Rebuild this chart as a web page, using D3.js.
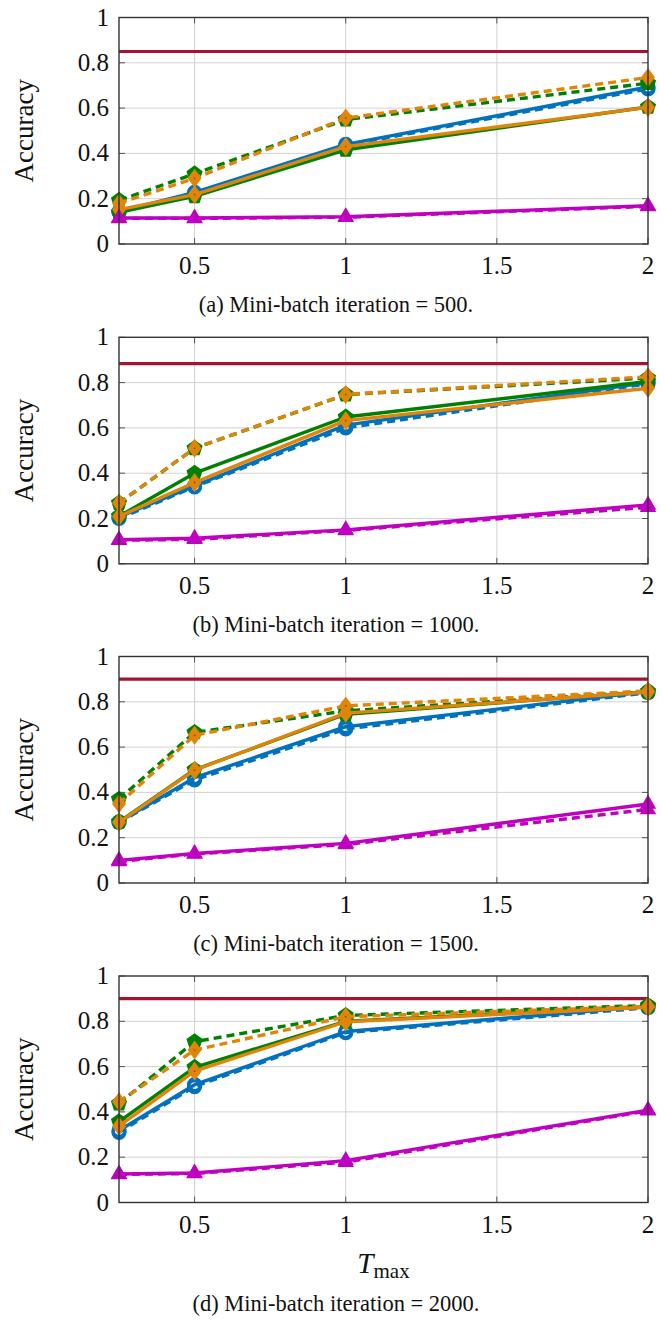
<!DOCTYPE html>
<html>
<head>
<meta charset="utf-8">
<script src="https://cdn.jsdelivr.net/npm/d3@7"></script>
<style>
  body { margin: 0; background: #fff; }
  svg text { font-family: 'Liberation Serif', 'DejaVu Serif', serif; fill: #111; }
  .grid line { stroke: #d2d2d2; stroke-width: 1; }
  .tick-mark { stroke: #555; stroke-width: 1; }
  .frame { fill: none; stroke: #333; stroke-width: 1.4; }
</style>
</head>
<body>
<div class="container"></div>
<script>
// x positions (T_max) shared by all panels
const xValues = [0.25, 0.5, 1, 2];
const xTicks = [0.5, 1, 1.5, 2];
const yTicks = [0, 0.2, 0.4, 0.6, 0.8, 1];

const captions = [
  '(a) Mini-batch iteration = 500.',
  '(b) Mini-batch iteration = 1000.',
  '(c) Mini-batch iteration = 1500.',
  '(d) Mini-batch iteration = 2000.'
];

// horizontal reference line, one per panel
const reference = [0.85, 0.884, 0.90, 0.90];

// one row per panel (a..d), values at xValues
const blueSolid = [
  [0.143, 0.228, 0.44, 0.693],
  [0.207, 0.344, 0.612, 0.80],
  [0.27, 0.465, 0.69, 0.845],
  [0.318, 0.52, 0.755, 0.866]
];
const blueDashed = [
  [0.14, 0.225, 0.435, 0.685],
  [0.20, 0.34, 0.60, 0.795],
  [0.268, 0.455, 0.68, 0.84],
  [0.31, 0.512, 0.75, 0.86]
];
const greenSolid = [
  [0.14, 0.21, 0.416, 0.605],
  [0.21, 0.40, 0.648, 0.805],
  [0.27, 0.50, 0.745, 0.845],
  [0.357, 0.597, 0.80, 0.865]
];
const greenDashed = [
  [0.193, 0.31, 0.549, 0.71],
  [0.268, 0.51, 0.747, 0.82],
  [0.37, 0.665, 0.76, 0.845],
  [0.437, 0.71, 0.826, 0.87]
];
const orangeSolid = [
  [0.152, 0.218, 0.43, 0.603],
  [0.209, 0.359, 0.632, 0.775],
  [0.268, 0.498, 0.75, 0.843],
  [0.337, 0.58, 0.798, 0.862]
];
const orangeDashed = [
  [0.18, 0.29, 0.556, 0.735],
  [0.268, 0.51, 0.748, 0.826],
  [0.35, 0.652, 0.782, 0.848],
  [0.445, 0.673, 0.82, 0.866]
];
const magentaSolid = [
  [0.115, 0.115, 0.12, 0.169],
  [0.106, 0.113, 0.15, 0.26],
  [0.10, 0.13, 0.175, 0.349],
  [0.126, 0.13, 0.185, 0.408]
];
const magentaDashed = [
  [0.113, 0.113, 0.118, 0.166],
  [0.104, 0.108, 0.147, 0.25],
  [0.095, 0.128, 0.17, 0.325],
  [0.124, 0.128, 0.178, 0.405]
];

(function(){
  const config = {
    w: 665, h: 1322,
    left: 119, right: 648,
    tops: [17.5, 337.3, 656.5, 976], ph: 226.5,
    tick: 6, font: 25, title: 27, caption: 22.5, captionX: 336
  };

  const colors = {blue: '#0072BD', green: '#008000', orange: '#E0850A', magenta: '#C000C0', red: '#A2142F'};

  const series = [
    {values: blueSolid, color: colors.blue, dash: null, mark: 'circle'},
    {values: blueDashed, color: colors.blue, dash: '8,5', mark: 'circle'},
    {values: greenSolid, color: colors.green, dash: null, mark: 'pentagon'},
    {values: greenDashed, color: colors.green, dash: '8,5', mark: 'pentagon'},
    {values: orangeSolid, color: colors.orange, dash: null, mark: 'diamond'},
    {values: orangeDashed, color: colors.orange, dash: '8,5', mark: 'diamond'},
    {values: magentaSolid, color: colors.magenta, dash: null, mark: 'triangle'},
    {values: magentaDashed, color: colors.magenta, dash: '8,5', mark: 'triangle'}
  ];

  const svg = d3.select('.container').append('svg')
    .attr('width', config.w)
    .attr('height', config.h)
    .attr('viewBox', '0 0 ' + config.w + ' ' + config.h);

  svg.append('rect').attr('width', config.w).attr('height', config.h).attr('fill', '#fff');

  const x = d3.scaleLinear().domain([0.25, 2]).range([config.left, config.right]);

  const marks = {
    pentagon: r => {
      const pts = d3.range(5).map(i => {
        const a = -Math.PI / 2 + i * 2 * Math.PI / 5;
        return [r * Math.cos(a), r * Math.sin(a)];
      });
      return 'M' + pts.join('L') + 'Z';
    },
    diamond: (w, h) => `M0,${-h}L${w},0L0,${h}L${-w},0Z`,
    triangle: r => {
      const pts = [0, 1, 2].map(i => {
        const a = -Math.PI / 2 + i * 2 * Math.PI / 3;
        return [r * Math.cos(a), r * Math.sin(a)];
      });
      return 'M' + pts.join('L') + 'Z';
    }
  };

  captions.forEach((caption, p) => buildPanel(p));

  function buildPanel(p) {
    const top = config.tops[p], bottom = top + config.ph;
    const y = d3.scaleLinear().domain([0, 1]).range([bottom, top]);
    const g = svg.append('g').attr('class', 'panel');

    // grid
    const grid = g.append('g').attr('class', 'grid');
    grid.selectAll('line.v')
      .data(xTicks.filter(t => t < 2))
      .enter().append('line')
        .attr('x1', d => x(d)).attr('x2', d => x(d))
        .attr('y1', top).attr('y2', bottom);
    grid.selectAll('line.h')
      .data(yTicks.filter(t => t > 0 && t < 1))
      .enter().append('line')
        .attr('x1', config.left).attr('x2', config.right)
        .attr('y1', d => y(d)).attr('y2', d => y(d));

    // inner tick marks on all four sides
    const ticks = g.append('g');
    xTicks.forEach(t => {
      ticks.append('line').attr('class', 'tick-mark')
        .attr('x1', x(t)).attr('x2', x(t)).attr('y1', bottom).attr('y2', bottom - config.tick);
      ticks.append('line').attr('class', 'tick-mark')
        .attr('x1', x(t)).attr('x2', x(t)).attr('y1', top).attr('y2', top + config.tick);
    });
    yTicks.forEach(t => {
      ticks.append('line').attr('class', 'tick-mark')
        .attr('x1', config.left).attr('x2', config.left + config.tick).attr('y1', y(t)).attr('y2', y(t));
      ticks.append('line').attr('class', 'tick-mark')
        .attr('x1', config.right).attr('x2', config.right - config.tick).attr('y1', y(t)).attr('y2', y(t));
    });

    // reference line
    g.append('line')
      .attr('x1', config.left).attr('x2', config.right)
      .attr('y1', y(reference[p])).attr('y2', y(reference[p]))
      .attr('stroke', colors.red)
      .attr('stroke-width', 3.2);

    const line = d3.line().x((d, i) => x(xValues[i])).y(d => y(d));

    series.forEach(s => {
      const vals = s.values[p];
      const sg = g.append('g');
      sg.append('path')
        .attr('d', line(vals))
        .attr('fill', 'none')
        .attr('stroke', s.color)
        .attr('stroke-width', 3.4)
        .attr('stroke-linejoin', 'round')
        .attr('stroke-dasharray', s.dash);

      const m = sg.selectAll('g.mark')
        .data(vals)
        .enter().append('g')
          .attr('transform', (d, i) => `translate(${x(xValues[i])},${y(d)})`);

      if (s.mark === 'circle') {
        m.append('circle').attr('r', 6)
          .attr('fill', 'none').attr('stroke', s.color).attr('stroke-width', 3.2);
      } else if (s.mark === 'pentagon') {
        m.append('path').attr('d', marks.pentagon(8.5)).attr('fill', s.color);
      } else if (s.mark === 'diamond') {
        m.append('path').attr('d', marks.diamond(7, 9.5)).attr('fill', s.color);
        m.append('circle').attr('r', 0.9).attr('fill', '#7a5a20');
      } else {
        m.append('path').attr('d', marks.triangle(9.5)).attr('fill', s.color);
      }
    });

    // frame
    g.append('rect').attr('class', 'frame')
      .attr('x', config.left).attr('y', top)
      .attr('width', config.right - config.left).attr('height', config.ph);

    // tick labels
    g.selectAll('text.xt')
      .data(xTicks)
      .enter().append('text')
        .attr('x', d => x(d))
        .attr('y', bottom + 30)
        .attr('text-anchor', 'middle')
        .attr('font-size', config.font)
        .text(d => d3.format('')(d));

    g.selectAll('text.yt')
      .data(yTicks)
      .enter().append('text')
        .attr('x', config.left - 10)
        .attr('y', d => y(d) + 8)
        .attr('text-anchor', 'end')
        .attr('font-size', config.font)
        .text(d => d3.format('')(d));

    // y axis title
    g.append('text')
      .attr('transform', `translate(33,${(top + bottom) / 2}) rotate(-90)`)
      .attr('text-anchor', 'middle')
      .attr('font-size', config.title)
      .text('Accuracy');

    if (p === 3) {
      const t = g.append('text')
        .attr('x', (config.left + config.right) / 2)
        .attr('y', bottom + 70)
        .attr('text-anchor', 'middle')
        .attr('font-size', 29);
      t.append('tspan').attr('font-style', 'italic').text('T');
      t.append('tspan').attr('dy', 5).attr('font-size', 21).text('max');
    }

    g.append('text')
      .attr('x', config.captionX)
      .attr('y', p === 3 ? bottom + 108 : bottom + 68)
      .attr('text-anchor', 'middle')
      .attr('font-size', config.caption)
      .text(captions[p]);
  }
})();
</script>
</body>
</html>
